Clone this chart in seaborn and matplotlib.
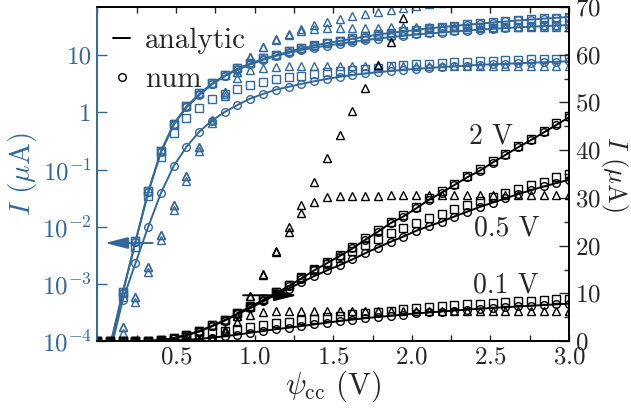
import numpy as np
import matplotlib
matplotlib.use("Agg")
import matplotlib.pyplot as plt
from matplotlib.lines import Line2D
from matplotlib.ticker import MultipleLocator, NullLocator
import seaborn as sns

# swept voltage psi_cc (V)
psi = np.linspace(0.0, 3.0, 38)

# current in uA; one list per drain bias
num_2 = [1e-6, 8e-5, 7e-4, 5.5e-3, 0.041, 0.21, 0.63, 1.27, 2.1, 3.2, 4.4, 5.8, 7.2, 8.6,
         10.0, 11.5, 13.1, 14.8, 16.3, 17.8, 19.4, 21.2, 22.9, 24.7, 26.1, 27.8, 29.6, 31.1,
         32.7, 34.3, 35.7, 37.4, 39.0, 40.6, 42.1, 43.7, 45.3, 46.9]
num_05 = [1e-6, 8e-5, 7e-4, 5.4e-3, 0.040, 0.20, 0.61, 1.23, 2.0, 3.1, 4.3, 5.6, 6.9, 8.3,
          9.7, 11.0, 12.3, 13.6, 14.8, 15.9, 17.1, 18.4, 19.6, 20.8, 21.9, 23.1, 24.1, 25.0,
          26.1, 27.1, 28.1, 29.0, 29.9, 30.8, 31.6, 32.4, 33.1, 33.8]
num_01 = [1e-6, 6e-5, 5.2e-4, 2.3e-3, 0.010, 0.039, 0.116, 0.25, 0.46, 0.72, 1.02, 1.35, 1.75,
          2.1, 2.5, 2.8, 3.15, 3.5, 3.85, 4.2, 4.5, 4.8, 5.05, 5.3, 5.55, 5.8, 6.0, 6.2, 6.4,
          6.6, 6.8, 6.95, 7.1, 7.25, 7.4, 7.55, 7.7, 7.85]

sq_2 = [1e-6, 8e-5, 7.2e-4, 5.6e-3, 0.042, 0.21, 0.64, 1.3, 2.2, 3.3, 4.5, 5.9, 7.3, 8.8,
        10.2, 11.8, 13.4, 15.1, 16.6, 18.1, 19.7, 21.5, 23.2, 25.0, 26.5, 28.1, 29.9, 31.4,
        33.0, 34.6, 36.0, 37.7, 39.3, 40.9, 42.4, 44.0, 45.6, 47.2]
sq_05 = [1e-6, 8e-5, 7.2e-4, 5.6e-3, 0.042, 0.21, 0.64, 1.3, 2.2, 3.3, 4.5, 5.9, 7.2, 8.8,
         10.3, 11.8, 13.3, 14.8, 16.2, 17.5, 18.8, 20.1, 21.4, 22.6, 23.7, 24.8, 25.8, 26.7,
         27.6, 28.5, 29.4, 30.2, 31.0, 31.8, 32.6, 33.4, 34.3, 35.1]
sq_01 = [1e-6, 7e-5, 6e-4, 4.5e-3, 0.034, 0.165, 0.43, 0.8, 1.2, 1.7, 2.1, 2.6, 3.05, 3.45,
         3.8, 4.1, 4.4, 4.7, 5.0, 5.3, 5.6, 5.85, 6.1, 6.4, 6.65, 6.9, 7.1, 7.3, 7.5, 7.7,
         7.85, 8.0, 8.15, 8.3, 8.45, 8.6, 8.75, 8.9]

tri_2 = [1e-6, 3e-5, 1.8e-4, 6.0e-4, 2.0e-3, 7.2e-3, 0.024, 0.076, 0.25, 0.74, 2.3, 5.2, 9.4,
         14.0, 18.9, 23.8, 28.5, 33.4, 38.3, 43.2, 48.1, 53.0, 57.8, 62.7, 67.6, 72.5, 77.4,
         82.3, 87.2, 92.1, 97.0, 102, 107, 112, 117, 122, 127, 132]
tri_05 = [1e-6, 3e-5, 1.8e-4, 6.0e-4, 2.0e-3, 7.2e-3, 0.024, 0.076, 0.25, 0.74, 2.3, 5.2, 9.4,
          13.8, 18.6, 22.9, 26.8, 29.2, 30.2, 30.4, 30.5, 30.5, 30.5, 30.6, 30.6, 30.6, 30.6,
          30.6, 30.6, 30.6, 30.6, 30.6, 30.6, 30.6, 30.6, 30.6, 30.6, 30.6]
tri_01 = [1e-6, 2.5e-5, 1.4e-4, 4.9e-4, 1.6e-3, 5.9e-3, 0.0195, 0.062, 0.21, 0.66, 1.9, 4.0,
          5.45, 6.1, 6.3, 6.4, 6.4, 6.4, 6.4, 6.4, 6.4, 6.4, 6.4, 6.4, 6.4, 6.4, 6.4, 6.4,
          6.4, 6.4, 6.4, 6.4, 6.4, 6.4, 6.4, 6.4, 6.4, 6.4]

bias_labels = ["2 V", "0.5 V", "0.1 V"]
series = [(num_2, sq_2, tri_2), (num_05, sq_05, tri_05), (num_01, sq_01, tri_01)]

BLUE = "#33699a"

sns.set_theme(style="ticks")
plt.rcParams.update({
    "font.family": ["cmr10", "DejaVu Serif"],
    "mathtext.fontset": "cm",
    "axes.formatter.use_mathtext": True,
    "axes.linewidth": 1.2,
})


def draw(ax, color):
    for num, sq, tri in series:
        # analytic curve follows the num points
        sns.lineplot(x=psi, y=num, ax=ax, color=color, lw=1.4, errorbar=None, legend=False)
        for vals, mk in ((tri, "^"), (sq, "s"), (num, "o")):
            sns.lineplot(x=psi, y=vals, ax=ax, color=color, linestyle="none", marker=mk,
                         ms=5.5, mfc="none", mec=color, mew=1.0, errorbar=None, legend=False)


fig = plt.figure(figsize=(6.31, 4.09), dpi=100)
ax = fig.add_axes([0.154, 0.166, 0.748, 0.817])
ax.set_yscale("log")
draw(ax, BLUE)
ax.set_xlim(0, 3.0)
ax.set_ylim(1e-4, 70)

ax2 = ax.twinx()
draw(ax2, "black")
ax2.set_ylim(0, 70)
ax2.set_xlim(0, 3.0)

# x axis
ax.set_xticks([0.5, 1.0, 1.5, 2.0, 2.5, 3.0])
ax.xaxis.set_minor_locator(MultipleLocator(0.25))
ax.tick_params(axis="x", which="both", direction="in", top=True, length=4.5, width=1.0,
               labelsize=18, pad=4)
ax.set_xlabel(r"$\psi_{\rm cc}$ (V)", fontsize=22, labelpad=0)

# left (log) axis
ax.set_yticks([1e-4, 1e-3, 1e-2, 1e-1, 1, 10])
ax.set_yticklabels([r"$10^{-4}$", r"$10^{-3}$", r"$10^{-2}$", r"$10^{-1}$", "1", "10"])
ax.yaxis.set_minor_locator(NullLocator())
ax.tick_params(axis="y", which="both", direction="in", colors=BLUE, length=7, width=1.0,
               labelsize=18, pad=4)
ax.set_ylabel(r"$I$ ($\mu$A)", color=BLUE, fontsize=21, labelpad=2)

# right (linear) axis
ax2.set_yticks(range(0, 71, 10))
ax2.yaxis.set_minor_locator(MultipleLocator(5))
ax2.tick_params(axis="y", which="major", direction="in", length=7, width=1.0, labelsize=18,
                pad=4)
ax2.tick_params(axis="y", which="minor", direction="in", length=3.5, width=1.0)
ax2.set_ylabel(r"$I$ ($\mu$A)", rotation=270, va="center", fontsize=19)
ax2.yaxis.set_label_coords(1.096, 0.5)

for a in (ax, ax2):
    for side in ("top", "right", "bottom"):
        a.spines[side].set_color("black")
    a.spines["left"].set_color(BLUE)

# arrows pointing to each axis
ax.annotate("", xy=(0.03, 5.2e-3), xytext=(0.37, 5.2e-3),
            arrowprops=dict(arrowstyle="-|>,head_length=1.4,head_width=0.35", color=BLUE,
                            lw=1.4, mutation_scale=10))
ax2.annotate("", xy=(1.29, 9.6), xytext=(0.91, 9.6),
             arrowprops=dict(arrowstyle="-|>,head_length=1.4,head_width=0.35", color="black",
                             lw=1.4, mutation_scale=10))

# bias labels
ax2.text(2.5, 42.8, bias_labels[0], fontsize=20, ha="center", va="center")
ax2.text(2.6, 23.7, bias_labels[1], fontsize=20, ha="center", va="center")
ax2.text(2.6, 11.7, bias_labels[2], fontsize=20, ha="center", va="center")

handles = [Line2D([], [], color="black", lw=1.4),
           Line2D([], [], color="black", ls="none", marker="o", ms=5.5, mfc="none", mew=1.0)]
ax2.legend(handles, ["analytic", "num"], loc="upper left", frameon=False, fontsize=21,
           handlelength=0.6, handletextpad=0.5, borderaxespad=0.3, labelspacing=0.45,
           bbox_to_anchor=(-0.01, 1.0))

fig.savefig("out.png", dpi=100)
